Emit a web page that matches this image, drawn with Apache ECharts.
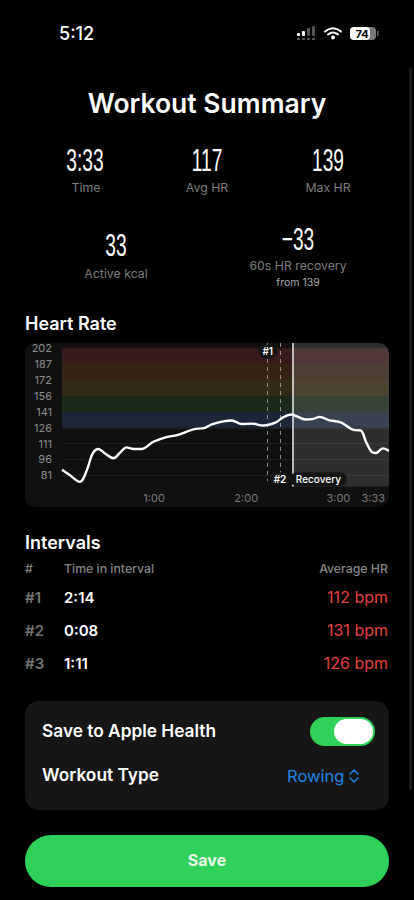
<!DOCTYPE html>
<html><head><meta charset="utf-8">
<script src="https://cdn.jsdelivr.net/npm/echarts@6/dist/echarts.min.js"></script>
<style>
html,body{margin:0;padding:0;background:#000;width:414px;height:900px;overflow:hidden;font-family:Inter,"Noto Sans",sans-serif;color:#fff}
.t{position:absolute;white-space:nowrap;line-height:1;transform:translateY(-50%)}
.c{transform:translate(-50%,-50%)}
.r{transform:translate(-100%,-50%)}
.big{font-family:"Liberation Sans Narrow","Liberation Sans",sans-serif;font-size:32px;transform:translate(-50%,-50%) scaleX(.6);font-weight:400}
.lab{font-size:12.3px;color:#7d7d7d}
.h{font-size:18px;font-weight:600}
.hd{font-size:12.3px;color:#868686;font-weight:500}
.n{font-size:15px;font-weight:600;color:#757575}
.v{font-size:15px;font-weight:600}
.red{font-size:16px;color:#e5413e;font-weight:400}
.ui{font-size:17.3px;font-weight:600}
#card{position:absolute;left:25px;top:343px;width:364px;height:164px;background:#101010;border-radius:10px}
#chart{position:absolute;left:0;top:0;width:414px;height:520px;clip-path:inset(343px 25px 13px 25px round 10px)}
</style></head><body>
<div id="card"></div>
<div id="chart"></div>

<div class="t" style="left:59px;top:34px;font-size:18px;font-weight:500">5:12</div>
<svg style="position:absolute;left:296px;top:26px" width="84" height="16" viewBox="0 0 84 16">
<g fill="#fff"><rect x="1" y="7" width="3" height="3" rx="1"/><rect x="6" y="5" width="3" height="5" rx="1"/></g>
<g fill="#555"><rect x="11" y="2" width="3" height="8" rx="1"/><rect x="16" y="0" width="3" height="10" rx="1"/><rect x="1" y="12" width="3" height="2"/><rect x="6" y="12" width="3" height="2"/><rect x="11" y="12" width="3" height="2"/><rect x="16" y="12" width="3" height="2"/></g>
<g fill="none" stroke="#fff" stroke-width="2" stroke-linecap="round"><path d="M29 5.5q8-6.5 16 0"/><path d="M32 8.5q5-4 10 0"/></g><circle cx="37" cy="11.5" r="2" fill="#fff"/>
<rect x="54" y="1" width="26" height="13" rx="4" fill="#777"/><rect x="54" y="1" width="20" height="13" rx="4" fill="#fff"/><rect x="81" y="5" width="1.5" height="5" fill="#666"/>
<text x="66" y="12" font-size="11" font-weight="700" text-anchor="middle" fill="#000" font-family="Inter">74</text></svg>
<div style="position:absolute;left:409px;top:68px;width:3px;height:722px;background:#1c1c1c;border-radius:2px"></div>

<div class="t c" style="left:207px;top:103px;font-size:26.5px;font-weight:600">Workout Summary</div>
<div class="t big" style="left:85px;top:160px">3:33</div><div class="t c lab" style="left:86px;top:188px">Time</div>
<div class="t big" style="left:207px;top:160px">117</div><div class="t c lab" style="left:207px;top:188px">Avg HR</div>
<div class="t big" style="left:328px;top:160px">139</div><div class="t c lab" style="left:328px;top:188px">Max HR</div>
<div class="t big" style="left:116px;top:245px">33</div><div class="t c lab" style="left:116px;top:274px">Active kcal</div>
<div class="t big" style="left:298px;top:239px">−33</div><div class="t c lab" style="left:298px;top:266px">60s HR recovery</div>
<div class="t c" style="left:298px;top:283px;font-size:10.5px;color:#a8a8a8">from 139</div>

<div class="t h" style="left:25px;top:324px">Heart Rate</div>
<div class="t h" style="left:25px;top:543px">Intervals</div>
<div class="t hd" style="left:25px;top:569px">#</div>
<div class="t hd" style="left:64px;top:569px">Time in interval</div>
<div class="t hd r" style="left:388px;top:569px">Average HR</div>
<div class="t n" style="left:25px;top:597px">#1</div><div class="t v" style="left:64px;top:597px">2:14</div><div class="t red r" style="left:388px;top:597px">112 bpm</div>
<div class="t n" style="left:25px;top:630px">#2</div><div class="t v" style="left:64px;top:630px">0:08</div><div class="t red r" style="left:388px;top:630px">131 bpm</div>
<div class="t n" style="left:25px;top:663px">#3</div><div class="t v" style="left:64px;top:663px">1:11</div><div class="t red r" style="left:388px;top:663px">126 bpm</div>

<div style="position:absolute;left:25px;top:701px;width:364px;height:109px;background:#161616;border-radius:14px"></div>
<div class="t ui" style="left:42px;top:731px">Save to Apple Health</div>
<div style="position:absolute;left:310px;top:717px;width:65px;height:29px;background:#30d158;border-radius:15px"></div>
<div style="position:absolute;left:334px;top:719px;width:39px;height:25px;background:#fff;border-radius:13px"></div>
<div class="t ui" style="left:42px;top:775px">Workout Type</div>
<div class="t" style="left:287px;top:776px;font-size:16.5px;color:#1f84e4">Rowing</div>
<svg style="position:absolute;left:348px;top:768px" width="12" height="16" viewBox="0 0 12 16"><path d="M2 6l4-4 4 4M2 10l4 4 4-4" fill="none" stroke="#1f84e4" stroke-width="1.6" stroke-linecap="round" stroke-linejoin="round"/></svg>
<div style="position:absolute;left:25px;top:835px;width:364px;height:52px;background:#30d158;border-radius:26px"></div>
<div class="t c" style="left:207px;top:860px;font-size:16px;font-weight:700;color:#e6f8ea">Save</div>

<script>
const hrTimes=[0,5,11.7,14,17,20,23.7,28,33.5,38,42,46.5,52,59.5,68,75,85.6,93,97.6,106,110.7,117,123.7,131,139,144,149.5,153,158.5,163,168,173.7,182,190,194.5,198,201.7,204.5,209,213];
const hrValues=[86,81,74.5,78,89,101.6,105.8,101.6,97,102.6,107.4,105.8,105.8,112.7,117.2,119,124.5,126,129.3,132.4,133,129.6,130,128.3,131,136,138.8,137,134,134.3,136.5,133.4,131,124,123.5,112.7,103,102,106.4,104];
const yTicks=[81,96,111,126,141,156,172,187,202];
const xTicks=[60,120,180,213];
const zoneEdges=[202,187,172,156,141,126];
const zoneColors=['#371a1b','#342316','#322a16','#19291a','#1b2639'];
const interval1=134, interval2=142, recoveryStart=150, endTime=213;
const pill={color:'#fff',fontSize:10,fontWeight:600,fontFamily:'Inter',backgroundColor:'#151515',borderRadius:8,padding:[2,4]};
const fmt=v=>{const s=Math.floor(v/60)+':'+String(v%60).padStart(2,'0');return v===endTime?'{last|'+s+'}':s;};
const zoneAreas=zoneColors.map((c,i)=>[{xAxis:0,yAxis:zoneEdges[i],itemStyle:{color:c,opacity:1}},{xAxis:endTime,yAxis:zoneEdges[i+1]}]);
const chart=echarts.init(document.getElementById('chart'),null,{renderer:'svg'});
chart.setOption({
 animation:false,backgroundColor:'transparent',
 grid:{left:62,right:25,top:343,height:143.5},
 xAxis:{type:'value',min:0,max:endTime,
  axisLine:{show:false},axisTick:{show:false,customValues:xTicks},splitLine:{show:false},
  axisLabel:{customValues:xTicks,formatter:fmt,color:'#7a7a7a',fontSize:11,margin:6,fontFamily:'Inter',alignMaxLabel:'right',
   rich:{last:{color:'#7a7a7a',fontSize:11,fontFamily:'Inter',padding:[0,4,0,0]}}}},
 yAxis:{type:'value',min:70,max:207,
  axisLine:{show:false},axisTick:{show:false,customValues:yTicks},
  splitLine:{show:true,lineStyle:{color:'#1e1e1e',width:1}},
  axisLabel:{customValues:yTicks,color:'#8e8e8e',fontSize:11,margin:10,fontFamily:'Inter'}},
 series:[
  {type:'line',silent:true,data:[],z:1,markArea:{silent:true,data:zoneAreas}},
  {type:'line',silent:true,data:[],z:2,markArea:{silent:true,itemStyle:{color:'rgba(255,255,255,0.13)'},data:[[{xAxis:recoveryStart,yAxis:70},{xAxis:endTime,yAxis:207}]]}},
  {type:'line',data:hrTimes.map((t,i)=>[t,hrValues[i]]),smooth:0.35,showSymbol:false,z:5,
   lineStyle:{color:'#fff',width:2.4},
   markLine:{silent:true,symbol:'none',label:{show:false},data:[
    [{xAxis:interval1,yAxis:207,lineStyle:{color:'rgba(255,255,255,.5)',type:[4,4],width:1}},{xAxis:interval1,yAxis:75}],
    [{xAxis:interval2,yAxis:207,lineStyle:{color:'rgba(255,255,255,.5)',type:[4,4],width:1}},{xAxis:interval2,yAxis:75}],
    [{xAxis:recoveryStart,yAxis:207,lineStyle:{color:'#e8e8e8',type:'solid',width:1.5}},{xAxis:recoveryStart,yAxis:70}]
   ]},
   markPoint:{silent:true,symbol:'circle',symbolSize:0,data:[
    {coord:[interval1,199],label:{show:true,position:'inside',formatter:'#1',...pill}},
    {coord:[interval2,77],label:{show:true,position:'inside',formatter:'#2',...pill}},
    {coord:[167,77],label:{show:true,position:'inside',formatter:'Recovery',...pill,fontWeight:500,padding:[2,6]}}
   ]}}
 ]
});
</script>
</body></html>
